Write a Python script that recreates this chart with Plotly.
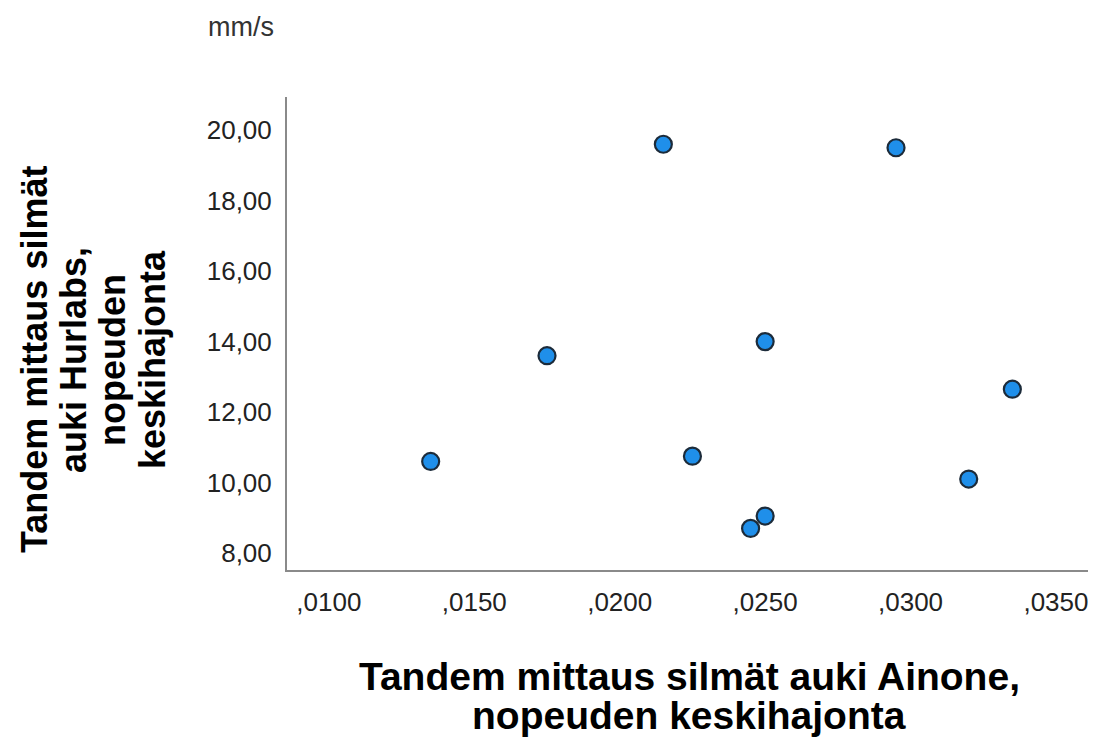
import plotly.graph_objects as go

# Data
x_vals = [0.0135, 0.0175, 0.0215, 0.0225, 0.0245, 0.0250, 0.0250, 0.0295, 0.0320, 0.0335]
y_vals = [10.60, 13.60, 19.60, 10.75, 8.70, 9.05, 14.00, 19.50, 10.10, 12.65]

x_tick_vals = [0.010, 0.015, 0.020, 0.025, 0.030, 0.035]
x_tick_text = [",0100", ",0150", ",0200", ",0250", ",0300", ",0350"]
y_tick_vals = [8, 10, 12, 14, 16, 18, 20]
y_tick_text = ["8,00", "10,00", "12,00", "14,00", "16,00", "18,00", "20,00"]

x_title_lines = ["Tandem mittaus silmät auki Ainone,", "nopeuden keskihajonta"]
y_title_lines = ["Tandem mittaus silmät", "auki Hurlabs,", "nopeuden", "keskihajonta"]
unit_label = "mm/s"

FONT = "Liberation Sans, Arial, sans-serif"
W, H = 1096, 740
OFF = 8  # page body margin offset in the screenshot

# desired plot area in screenshot pixels
L, R, T, B = 287, 1090, 97, 570
ml, mt = L - OFF, T - OFF
mr = W - (R - OFF)
mb = H - (B - OFF)
pw, ph = R - L, B - T


def px(xs):
    return (xs - L) / pw


def py(ys):
    return (B - ys) / ph


fig = go.Figure()
fig.add_trace(go.Scatter(
    x=x_vals, y=y_vals, mode="markers",
    marker=dict(size=17, color="#1f8fea", line=dict(color="#1c2b3a", width=2.2)),
    showlegend=False, hoverinfo="x+y",
))

tick_font = dict(family=FONT, size=26, color="#222222")

annotations = []
# x title lines (screen baselines ~688, ~727)
for line, yc in zip(x_title_lines, [676, 715]):
    annotations.append(dict(
        text="<b>" + line + "</b>", xref="paper", yref="paper",
        x=px(689), y=py(yc), xanchor="center", yanchor="middle",
        showarrow=False, font=dict(family=FONT, size=39, color="black")))
# y title lines (rotated)
for line, xc in zip(y_title_lines, [34, 73, 112, 152]):
    annotations.append(dict(
        text="<b>" + line + "</b>", xref="paper", yref="paper",
        x=px(xc), y=py(360), textangle=-90, xanchor="center", yanchor="middle",
        showarrow=False, font=dict(family=FONT, size=36, color="black")))
annotations.append(dict(
    text=unit_label, xref="paper", yref="paper",
    x=px(206), y=py(27), xanchor="left", yanchor="middle",
    showarrow=False, font=dict(family=FONT, size=27, color="#333333")))

fig.update_layout(
    width=W, height=H,
    margin=dict(l=ml, r=mr, t=mt, b=mb),
    plot_bgcolor="white", paper_bgcolor="white",
    xaxis=dict(
        range=[0.00856, 0.03617], automargin=False,
        tickvals=x_tick_vals, ticktext=x_tick_text,
        showgrid=False, zeroline=False,
        showline=True, linecolor="#8a8a8a", linewidth=2,
        ticks="outside", ticklen=8, tickcolor="rgba(0,0,0,0)",
        tickfont=tick_font,
    ),
    yaxis=dict(
        range=[7.52, 20.94], automargin=False,
        tickvals=y_tick_vals, ticktext=y_tick_text,
        showgrid=False, zeroline=False,
        showline=True, linecolor="#8a8a8a", linewidth=2,
        ticks="outside", ticklen=8, tickcolor="rgba(0,0,0,0)",
        tickfont=tick_font,
    ),
    annotations=annotations,
)

fig.write_html("out.html")
